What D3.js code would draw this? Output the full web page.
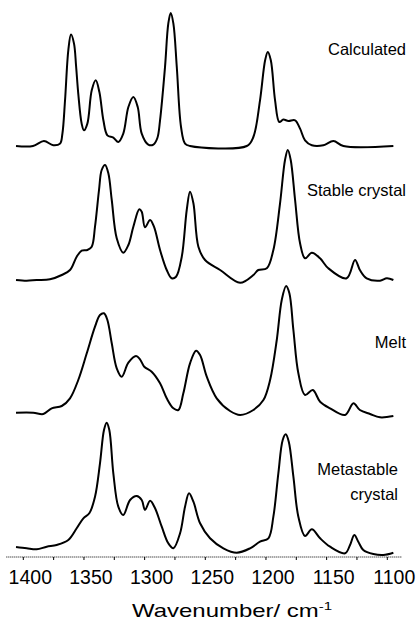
<!DOCTYPE html>
<html><head><meta charset="utf-8">
<script src="https://cdn.jsdelivr.net/npm/d3@7"></script>
<style>body{margin:0;background:#fff}svg{display:block}</style>
</head><body>
<svg id="c" width="419" height="622"></svg>
<script>
// Series names and vertical offsets (arbitrary units)
const names = ["Calculated", "Stable crystal", "Melt", "Metastable crystal"];
const offsets = [411, 277, 144, 10];

// [wavenumber (cm-1), intensity (a.u.)]
const calculated = [[1406,0],[1392,0],[1383,5],[1375.3,0.7],[1369.7,2.4],[1367.8,12],[1365.6,45.7],[1362.9,95.7],[1360.7,111.4],[1358.2,102.4],[1356.5,80],[1354.7,52.4],[1351.9,22.4],[1350,15.7],[1347.2,22.4],[1343.6,55.7],[1340.3,65.7],[1337.3,54],[1334,25.7],[1330.7,10.7],[1325.8,8.4],[1321.7,4],[1317.6,12.4],[1313.4,39],[1309.3,49],[1305.7,39],[1302.4,12.4],[1297,1.4],[1292.8,1.4],[1289.5,8],[1287.3,25.7],[1283.2,79],[1280.5,122.4],[1278.5,133],[1276.3,122.4],[1273.5,79],[1270,19],[1266.7,2.4],[1262.6,0],[1215.8,0],[1210.4,9],[1204.9,45.7],[1200.7,85.7],[1198.5,94],[1196,85.7],[1192.5,45.7],[1189,24],[1185.7,26.4],[1181.5,25],[1176,25.7],[1171.9,17.4],[1167.8,5.7],[1162.2,0.7],[1152.7,0.7],[1144.4,5],[1136.2,0],[1095,0]];

const stableCrystal = [[1406,0],[1397.2,-0.7],[1389,0],[1378,0.7],[1368.3,5],[1361.5,10],[1356,23.3],[1351.9,29.3],[1347.2,30],[1343.6,33.3],[1340.9,53.3],[1337.6,90],[1335.4,110],[1332.6,115],[1329.9,106.7],[1327.1,80],[1323,41.7],[1317.6,27.3],[1313.4,35],[1309.3,53.3],[1304.4,70.7],[1302.4,68.3],[1299.7,52.7],[1295.5,60],[1292.3,53.3],[1287.3,30],[1281.8,10],[1277.7,1.7],[1274.1,3.3],[1269.4,23.3],[1265.3,70],[1262.6,88.3],[1259.8,76.7],[1255.7,33.3],[1250.2,20],[1237.8,10],[1221.3,-2.7],[1210.4,5],[1206.3,10],[1199.3,11.7],[1193.9,30],[1188.4,76.7],[1184.3,120],[1182,130],[1179.6,120],[1176,80],[1171.9,36.7],[1167.8,21.7],[1162.2,27.3],[1155.4,21.7],[1148.6,11.7],[1133.5,1.7],[1126.6,20],[1122.6,10],[1117,1.7],[1106,-0.7],[1100.4,1.7],[1095,0]];

const melt = [[1406,0.3],[1391.8,0.3],[1383.5,-1],[1376.6,4.7],[1368.3,7],[1361.5,14.7],[1354.7,33],[1347.7,59.7],[1340.9,86.3],[1336.8,98],[1333.5,99.7],[1330.7,93],[1327.1,69.7],[1323,44.7],[1318.9,36.3],[1313.4,50.3],[1307.1,57],[1303.8,53.7],[1300.3,46.3],[1294.2,41.3],[1287.3,29.7],[1281.8,14.7],[1276.3,4.7],[1272.2,3],[1268.1,19.7],[1262.6,49.7],[1257.6,62.3],[1254.3,58],[1248.8,36.3],[1240.6,14.7],[1229.6,2],[1221.3,-2],[1210.4,3],[1202.1,13],[1196.6,33],[1191.1,73],[1187,113],[1183.4,127],[1180.7,119.7],[1177.4,83],[1173.3,39.7],[1167.8,18],[1161.4,23],[1155.4,11.3],[1147.2,4.7],[1134.8,-2],[1127.9,9.7],[1122.6,3],[1114.2,-1],[1106,-4.3],[1095,-3]];

const metastableCrystal = [[1406,0],[1397.2,-1.3],[1389,-2.3],[1380.7,0.3],[1372.5,2],[1362.9,7],[1356,18.7],[1350.5,28.7],[1345.6,33.7],[1340.9,50.3],[1336.8,83.7],[1333.5,117],[1331.3,124.3],[1329.1,117],[1325.8,73.7],[1321.7,40.3],[1317.6,32],[1312,47],[1306.5,51],[1302.4,47],[1299.7,37],[1295.5,46.3],[1291.4,38.7],[1285.9,20.3],[1280.5,3.7],[1276.3,-1.3],[1270.8,13.7],[1266.7,40.3],[1263.4,53.7],[1259.8,45.3],[1254.3,23.7],[1246.1,8.7],[1235.1,-1.3],[1224.1,-5.7],[1213.1,-1.3],[1204.9,5.3],[1198,8.7],[1193.9,30.3],[1189.8,73.7],[1186.2,107],[1183.7,112.7],[1181.2,105.3],[1177.4,70.3],[1173.3,30.3],[1167.8,11],[1162.2,17.7],[1155.4,8.7],[1147.2,0.3],[1134.8,-6.3],[1130.7,2],[1127.2,12],[1123.9,5.3],[1119.8,-3],[1111.5,-7],[1103.3,-8],[1095,-5.7]];

const series = [calculated, stableCrystal, melt, metastableCrystal];

const tickValues = [1400,1375,1350,1325,1300,1275,1250,1225,1200,1175,1150,1125,1100];
const tickLabels = [1400,1350,1300,1250,1200,1150,1100];
const xTitle = "Wavenumber/ cm";
const xTitleSup = "-1";

const svg = d3.select("#c");
const x = d3.scaleLinear().domain([1400, 1100]).range([23.3, 387.3]);
const y = d3.scaleLinear().domain([0, 550]).range([557, 7]);

const line = d3.line()
  .x(d => x(d[0]))
  .curve(d3.curveCatmullRom.alpha(0.5));

series.forEach((s, i) => {
  svg.append("path")
    .datum(s)
    .attr("fill", "none")
    .attr("stroke", "#000")
    .attr("stroke-width", 2)
    .attr("stroke-linejoin", "round")
    .attr("d", line.y(d => y(d[1] + offsets[i])));
});

// axis
const axisY = y(0);
svg.append("line")
  .attr("x1", x(1414)).attr("x2", x(1088))
  .attr("y1", axisY).attr("y2", axisY)
  .attr("stroke", "#000").attr("stroke-width", 1)
  .attr("stroke-dasharray", "1 1");
svg.selectAll(".tk").data(tickValues).enter().append("line")
  .attr("x1", d => x(d)).attr("x2", d => x(d))
  .attr("y1", axisY).attr("y2", axisY + 3)
  .attr("stroke", "#000").attr("stroke-width", 1);
svg.selectAll(".tl").data(tickLabels).enter().append("text")
  .attr("x", d => x(d) + 7).attr("y", 584)
  .attr("text-anchor", "middle")
  .attr("font-family", "Liberation Sans, Arial, sans-serif")
  .attr("font-size", "19.5px")
  .attr("fill", "#000")
  .text(d => d);

// axis title (horizontally stretched like the reference)
const t = svg.append("text")
  .attr("transform", "translate(132,617) scale(1.37,1)")
  .attr("font-family", "Liberation Sans, Arial, sans-serif")
  .attr("font-size", "17.5px")
  .attr("fill", "#000");
t.append("tspan").text(xTitle);
t.append("tspan").attr("font-size", "11px").attr("dy", -7).text(xTitleSup);

// series labels
const labelFont = "Liberation Sans, Arial, sans-serif";
const lab = (txt, xx, yy) => svg.append("text")
  .attr("x", xx).attr("y", yy).attr("text-anchor", "end")
  .attr("font-family", labelFont).attr("font-size", "16.5px").attr("fill", "#000")
  .text(txt);
lab(names[0], 406, 55);
lab(names[1], 406, 196);
lab(names[2], 406, 348);
lab("Metastable", 398, 475);
lab("crystal", 398, 500);
</script>
</body></html>
